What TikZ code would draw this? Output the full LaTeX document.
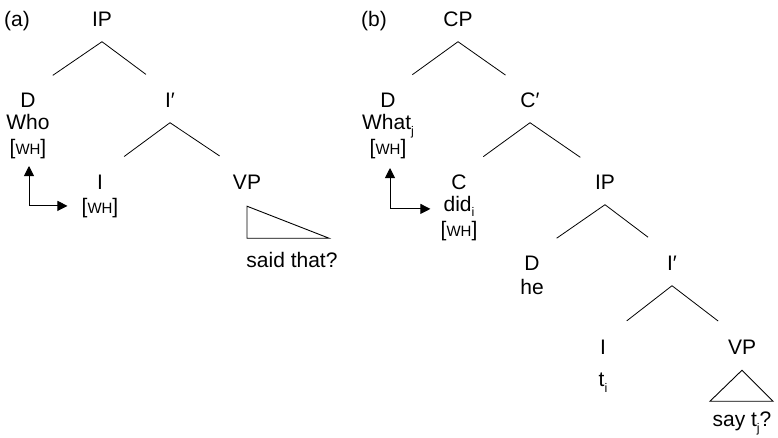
\documentclass[tikz,border=0pt]{standalone}
\usepackage{fontspec}
\setmainfont{Liberation Sans}
\usetikzlibrary{positioning}
\usetikzlibrary{arrows.meta}

\newcommand{\wh}{[{\fontsize{15}{15}\selectfont WH}]}
\newcommand{\idx}[1]{\raisebox{-5.5pt}{\fontsize{12.5}{12.5}\selectfont #1}}

\begin{document}
\begin{tikzpicture}[x=1pt, y=-1pt,
    catnode/.style={font=\fontsize{21}{25}\selectfont, inner sep=0pt,
      text height=15pt, text depth=0pt},
    branch/.style={line width=0.8pt, shorten >=30pt},
    roof/.style={line width=0.9pt},
    move/.style={line width=0.9pt,
      {Triangle[length=10pt,width=10pt]}-{Triangle[length=10pt,width=10pt]}}]
  \useasboundingbox (0,0) rectangle (778,437);

  % (a) IP tree
  \node[catnode] (lbl_a) at (17,19) {(a)};
  \node[catnode] (ip_a) at (102,19) {IP};
  \node[catnode] (d_a) at (28,100) {D};
  \node[catnode] (who_a) [below=7pt of d_a] {Who};
  \node[catnode] (wh_a) [below=9.5pt of who_a] {\wh};
  \node[catnode] (ibar_a) at (170,100) {I′};
  \node[catnode] (i_a) at (100,182) {I};
  \node[catnode] (iwh_a) [below=8.5pt of i_a] {\wh};
  \node[catnode] (vp_a) at (247,182) {VP};
  \node[catnode] (said_a) at (292,260) {said that?};
  \coordinate[below=15pt of ip_a] (ip_a_br);
  \coordinate[below=15pt of ibar_a] (ibar_a_br);
  \coordinate[below=16.5pt of vp_a] (vp_a_top);
  \draw[branch] (ip_a_br) -- (d_a.north);
  \draw[branch] (ip_a_br) -- (ibar_a.north);
  \draw[branch] (ibar_a_br) -- (i_a.north);
  \draw[branch, shorten >=33pt] (ibar_a_br) -- (vp_a.north);
  \draw[roof] (vp_a_top) -- ++(0,32) -- ++(82,0) -- cycle;
  \draw[move, shorten <=11pt, shorten >=14pt] ([xshift=1pt]wh_a.south) |- (iwh_a.west);

  % (b) CP tree
  \node[catnode] (lbl_b) at (374,19) {(b)};
  \node[catnode] (cp_b) at (458,19) {CP};
  \node[catnode] (d_b) at (388,100) {D};
  \node[catnode] (what_b) [below=7pt of d_b] {What\idx{j}};
  \node[catnode] (wh_b) [below=9.5pt of what_b] {\wh};
  \node[catnode] (cbar_b) at (530,100) {C′};
  \node[catnode] (c_b) at (459,182) {C};
  \node[catnode] (did_b) [below=6.5pt of c_b] {did\idx{i}};
  \node[catnode] (cwh_b) [below=10pt of did_b] {\wh};
  \node[catnode] (ip_b) at (605,182) {IP};
  \node[catnode] (dhe_b) at (532,263) {D};
  \node[catnode] (he_b) [below=8.5pt of dhe_b] {he};
  \node[catnode] (ibar_b) at (672,263) {I′};
  \node[catnode] (i_b) at (603,347) {I};
  \node[catnode] (t_b) [below=17pt of i_b] {t\idx{i}};
  \node[catnode] (vp_b) at (742,347) {VP};
  \node[catnode] (say_b) at (742,419) {say t\idx{j}?};
  \coordinate[below=15pt of cp_b] (cp_b_br);
  \coordinate[below=15pt of cbar_b] (cbar_b_br);
  \coordinate[below=15pt of ip_b] (ip_b_br);
  \coordinate[below=15pt of ibar_b] (ibar_b_br);
  \coordinate[below=15.5pt of vp_b] (vp_b_top);
  \draw[branch] (cp_b_br) -- (d_b.north);
  \draw[branch] (cp_b_br) -- (cbar_b.north);
  \draw[branch] (cbar_b_br) -- (c_b.north);
  \draw[branch] (cbar_b_br) -- (ip_b.north);
  \draw[branch] (ip_b_br) -- (dhe_b.north);
  \draw[branch] (ip_b_br) -- (ibar_b.north);
  \draw[branch] (ibar_b_br) -- (i_b.north);
  \draw[branch] (ibar_b_br) -- (vp_b.north);
  \draw[roof] (vp_b_top) -- ++(-32,31) -- ++(63,0) -- cycle;
  \draw[move, shorten <=13pt, shorten >=13pt] ([xshift=2pt]wh_b.south) |- ([yshift=-5pt]did_b.west);
\end{tikzpicture}
\end{document}
